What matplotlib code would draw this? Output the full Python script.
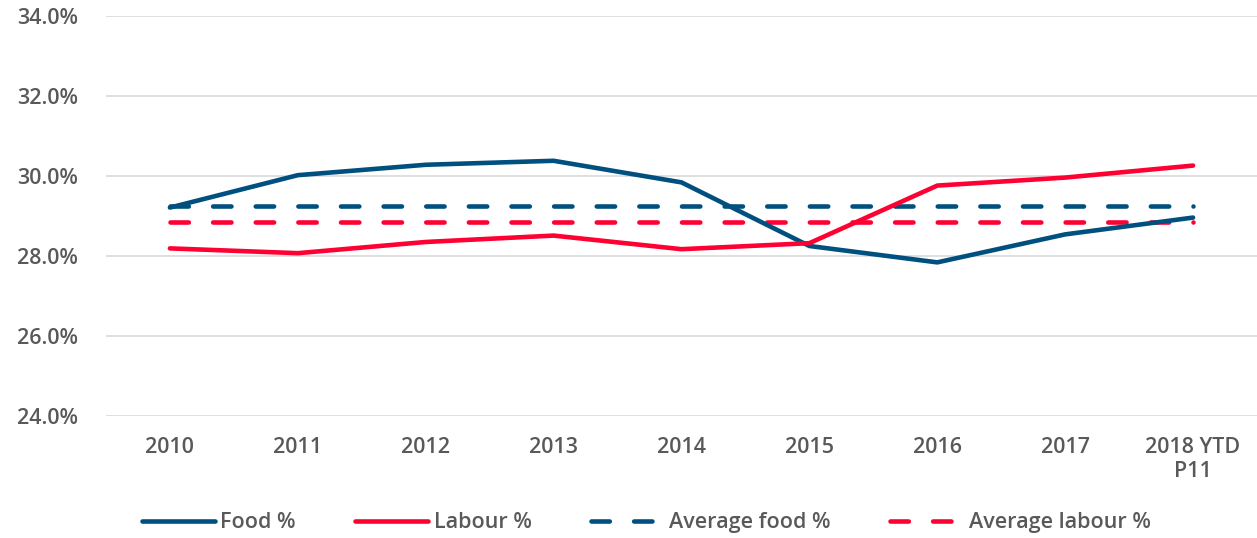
import numpy as np
import matplotlib.pyplot as plt

years = ['2010', '2011', '2012', '2013', '2014', '2015', '2016', '2017', '2018 YTD\nP11']
food_pct = [29.21, 30.02, 30.28, 30.38, 29.84, 28.25, 27.84, 28.54, 28.96]
labour_pct = [28.19, 28.07, 28.35, 28.51, 28.17, 28.32, 29.76, 29.96, 30.26]

BLUE = '#00507F'
RED = '#FF0033'
GREY = '#595959'

plt.rcParams['font.family'] = ['Open Sans', 'DejaVu Sans']

fig = plt.figure(figsize=(12.57, 5.38), dpi=100)
ax = fig.add_axes([0.0843, 0.2268, 0.9157, 0.7435])

x = np.arange(len(years))
avg_food = np.mean(food_pct)
avg_labour = np.mean(labour_pct)

ax.plot(x, food_pct, color=BLUE, lw=3.3, solid_capstyle='round', label='Food %', zorder=3)
ax.plot(x, labour_pct, color=RED, lw=3.3, solid_capstyle='round', label='Labour %', zorder=3)
ax.plot(x, [avg_food] * len(x), color=BLUE, lw=3.3, dashes=(4.0, 5.3),
        dash_capstyle='round', label='Average food %', zorder=2)
ax.plot(x, [avg_labour] * len(x), color=RED, lw=3.3, dashes=(4.0, 5.3),
        dash_capstyle='round', label='Average labour %', zorder=2)

ax.set_xlim(-0.5, len(years) - 0.5)
ax.set_ylim(24, 34)
ax.set_yticks(np.arange(24, 34.1, 2))
ax.set_yticklabels([f'{v:.1f}%' for v in np.arange(24, 34.1, 2)])
ax.set_xticks(x)
ax.set_xticklabels(years, linespacing=1.2)

ax.grid(axis='y', color='#D9D9D9', lw=1.2)
ax.set_axisbelow(True)
for s in ax.spines.values():
    s.set_visible(False)
ax.tick_params(axis='both', length=0, labelsize=15.5, colors=GREY, labelcolor=GREY)
ax.tick_params(axis='y', pad=20)
ax.tick_params(axis='x', pad=15)
for lbl in ax.get_xticklabels() + ax.get_yticklabels():
    lbl.set_fontweight('semibold')

leg = fig.legend(loc='center', bbox_to_anchor=(0.514, 0.028), ncol=4, frameon=False,
                 handlelength=3.4, handletextpad=0.25, columnspacing=2.75,
                 prop={'weight': 'semibold', 'size': 15.5})
for t in leg.get_texts():
    t.set_color(GREY)

fig.savefig('out.png', dpi=100)
